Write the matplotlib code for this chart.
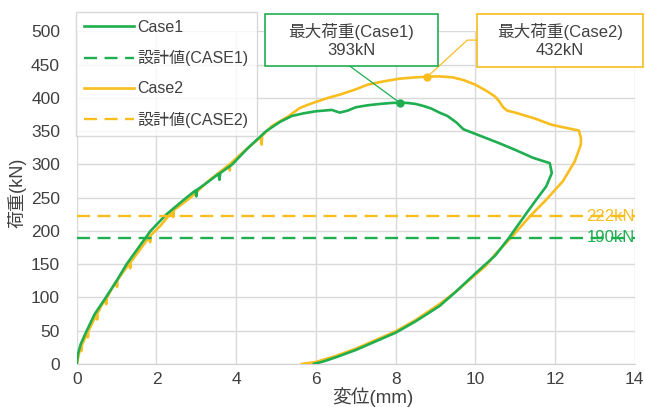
import matplotlib.pyplot as plt
import numpy as np

plt.rcParams['font.family'] = ['Liberation Sans', 'Noto Sans CJK JP', 'DejaVu Sans']

GREEN = '#1fae50'
YELLOW = '#f8bd1e'
TXT = '#404040'

# Case1 load-displacement (loading, peak, softening, unloading)
case1_x = [0, 0.03, 0.1, 0.25, 0.45, 0.73, 1.0, 1.25, 1.55, 1.85, 2.25, 2.75, 2.98, 3.0, 3.02,
           3.3, 3.56, 3.58, 3.6, 3.9, 4.3, 4.75, 5.1, 5.4, 5.7, 6.0, 6.4, 6.6, 6.8, 7.0, 7.3,
           7.6, 7.9, 8.1, 8.3, 8.5, 8.7, 8.9, 9.1, 9.3, 9.53, 9.7, 10.0, 10.3, 10.6, 11.0,
           11.45, 11.87, 11.92, 11.78, 11.53, 11.3, 11.05, 10.85, 10.5, 10.0, 9.5, 9.1, 8.5,
           8.0, 7.5, 7.0, 6.5, 6.2, 5.95]
case1_y = [0, 15, 30, 50, 75, 100, 125, 150, 175, 200, 225, 250, 261, 252, 262,
           274, 286, 277, 287, 300, 325, 350, 364, 373, 377, 380, 382, 378, 381, 386, 389,
           391, 392.5, 393, 392.5, 391, 388, 384, 378, 373, 363, 353, 346, 339, 332, 322,
           310, 302, 287, 267, 247, 228, 207, 190, 163, 136, 108, 87, 64,
           47, 34, 21, 10, 4, 0]

# Case2 load-displacement
case2_x = [0, 0.05, 0.11, 0.12, 0.13, 0.2, 0.27, 0.28, 0.29, 0.4, 0.5, 0.51, 0.52, 0.62,
           0.73, 0.74, 0.75, 0.87, 1.0, 1.01, 1.02, 1.15, 1.33, 1.34, 1.35, 1.6, 1.83, 1.84,
           1.85, 2.1, 2.41, 2.42, 2.43, 2.85, 3.3, 3.83, 3.84, 3.85, 4.2, 4.63, 4.64, 4.65,
           4.9, 5.3, 5.6, 5.9, 6.3, 6.6, 7.0, 7.3, 7.7, 8.1, 8.5, 8.8, 9.1, 9.43, 9.7, 10.0,
           10.3, 10.5, 10.6, 10.7, 10.8, 11.0, 11.5, 11.9, 12.2, 12.6, 12.65, 12.65, 12.5,
           12.2, 11.78, 11.37, 10.9, 10.5, 10.27, 10.0, 9.5, 9.1, 8.5, 8.0, 7.5, 7.0, 6.5,
           6.0, 5.65]
case2_y = [0, 14, 28, 20, 29, 38, 48, 40, 49, 63, 75, 67, 76, 88,
           98, 90, 99, 112, 125, 116, 126, 137, 152, 144, 153, 173, 192, 183,
           193, 208, 230, 221, 231, 250, 275, 300, 291, 301, 320, 342, 330, 343,
           358, 372, 385, 392, 400, 405, 413, 420, 425, 429, 431, 432, 432.5, 431, 427, 420,
           410, 402, 395, 386, 381, 378, 369, 360, 356, 351, 340, 330, 305,
           275, 247, 222, 190, 165, 148, 134, 108, 90, 66, 49, 36, 23, 12,
           3, 0]

design1 = 190
design2 = 222
peak1 = (8.1, 393)
peak2 = (8.8, 432)

x_ticks = [0, 2, 4, 6, 8, 10, 12, 14]
y_ticks = [0, 50, 100, 150, 200, 250, 300, 350, 400, 450, 500]

fig = plt.figure(figsize=(6.45, 4.07), dpi=100)
ax = fig.add_axes([0.119, 0.1057, 0.865, 0.817])

l1, = ax.plot(case1_x, case1_y, color=GREEN, lw=1.9, label='Case1', zorder=4)
d1, = ax.plot([0, 14], [design1, design1], color=GREEN, lw=1.7, dashes=(5.5, 3.2),
              label='設計値(CASE1)', zorder=5)
l2, = ax.plot(case2_x, case2_y, color=YELLOW, lw=1.9, label='Case2', zorder=3)
d2, = ax.plot([0, 14], [design2, design2], color=YELLOW, lw=1.7, dashes=(5.5, 3.2),
              label='設計値(CASE2)', zorder=5)

ax.plot(*peak1, 'o', color=GREEN, ms=5, zorder=6)
ax.plot(*peak2, 'o', color=YELLOW, ms=5, zorder=6)

ax.text(14, design2, f'{design2}kN', color=YELLOW, fontsize=12, ha='right', va='center', zorder=2)
ax.text(14, design1, f'{design1}kN', color=GREEN, fontsize=12, ha='right', va='center', zorder=2)

ax.set_xlim(0, 14)
ax.set_ylim(0, 500)
ax.set_xticks(x_ticks)
ax.set_yticks(y_ticks)
ax.grid(True, color='#d9d9d9', lw=1)
ax.set_axisbelow(True)
for s in ['top', 'right', 'left']:
    ax.spines[s].set_visible(False)
ax.spines['bottom'].set_color('#d0d0d0')
ax.tick_params(length=0, labelsize=12.5, colors=TXT)
ax.tick_params(axis='y', pad=12)
ax.tick_params(axis='x', pad=6)

ax.set_ylabel('荷重(kN)', fontsize=13, color=TXT)
ax.yaxis.set_label_coords(-0.09, 0.514)
ax.set_xlabel('変位(mm)', fontsize=13.5, color=TXT)
ax.xaxis.set_label_coords(0.53, -0.071)

# annotation boxes
box1 = plt.Rectangle((4.72, 448), 4.34, 78, transform=ax.transData, fill=True,
                     facecolor='white', edgecolor=GREEN, lw=1.2, clip_on=False, zorder=7)
box2 = plt.Rectangle((10.04, 447), 4.16, 79, transform=ax.transData, fill=True,
                     facecolor='white', edgecolor=YELLOW, lw=1.2, clip_on=False, zorder=7)
ax.add_patch(box1)
ax.add_patch(box2)
ax.text(6.89, 487, f'最大荷重(Case1)\n{peak1[1]}kN', ha='center', va='center', fontsize=12,
        color=TXT, linespacing=1.25, zorder=8)
ax.text(12.12, 487, f'最大荷重(Case2)\n{peak2[1]}kN', ha='center', va='center', fontsize=12,
        color=TXT, linespacing=1.25, zorder=8)
ax.plot([peak1[0], 6.85], [peak1[1], 448], color=GREEN, lw=0.9, clip_on=False, zorder=6)
ax.plot([peak2[0], 9.8, 10.04], [peak2[1], 487, 487], color=YELLOW, lw=0.9,
        clip_on=False, zorder=6)

leg = fig.legend(handles=[l1, d1, l2, d2], loc='upper left', bbox_to_anchor=(0.118, 0.9705),
                 bbox_transform=fig.transFigure, fontsize=11.5, frameon=True, fancybox=False,
                 borderaxespad=0, handlelength=3.1, labelspacing=0.95, handletextpad=0.25,
                 borderpad=0.5)
leg.get_frame().set_edgecolor('#d0d0d0')
leg.get_frame().set_linewidth(1)
for t in leg.get_texts():
    t.set_color(TXT)

fig.savefig('out.png', dpi=100)
